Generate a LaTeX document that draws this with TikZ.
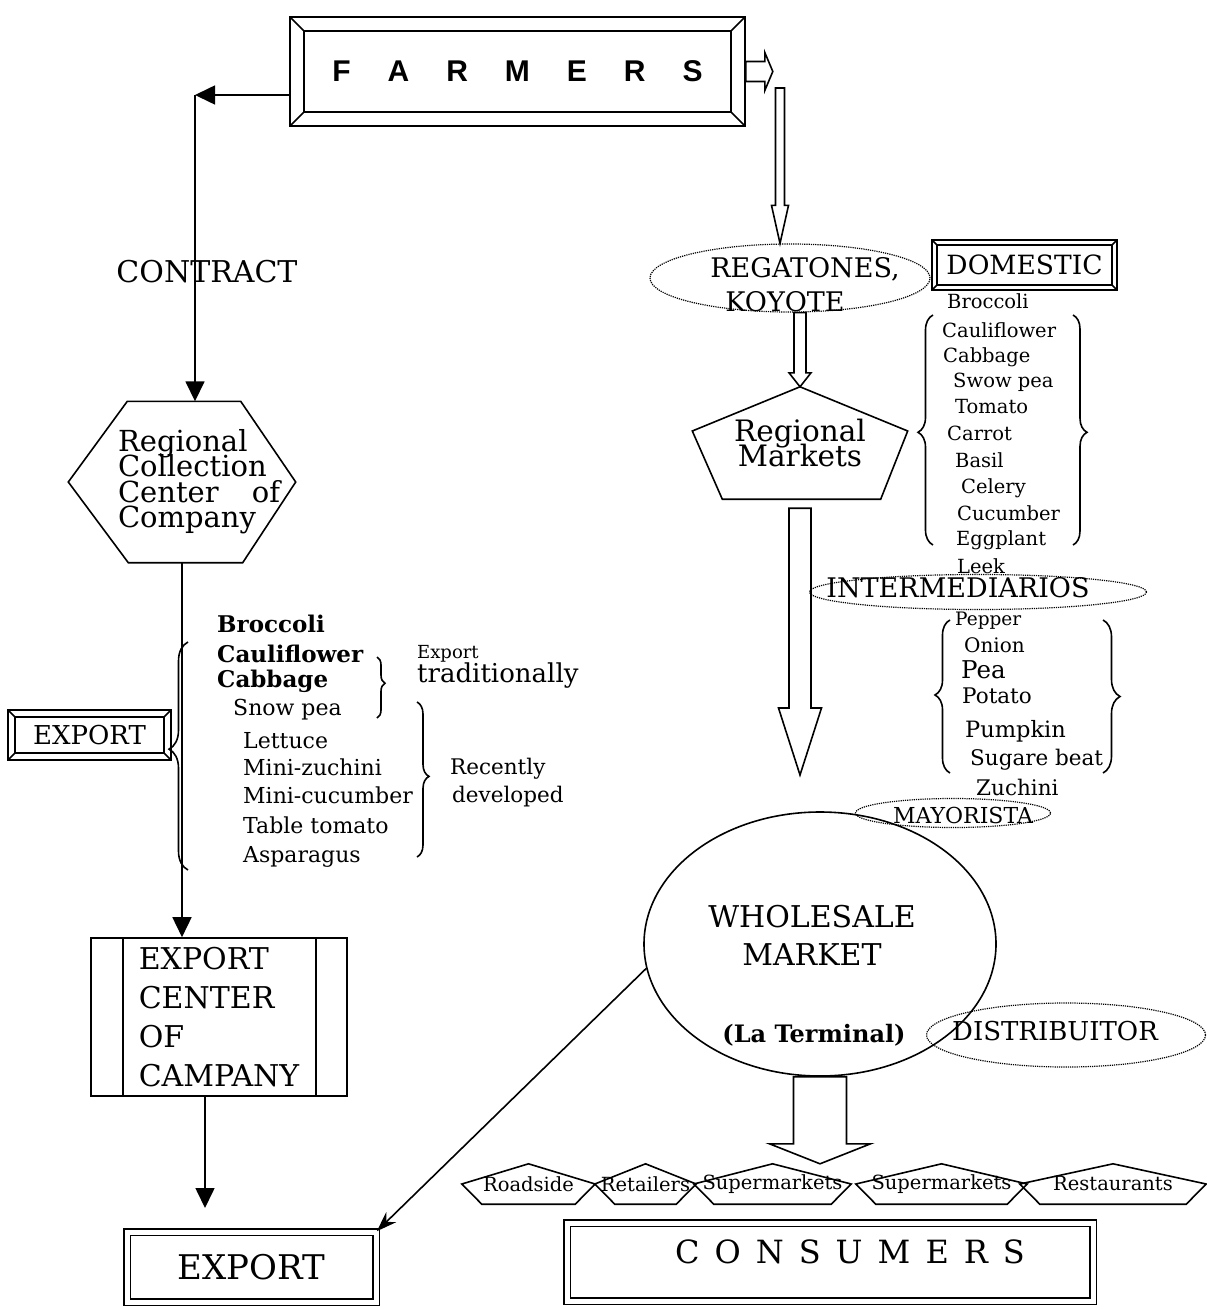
\documentclass[tikz,border=0pt]{standalone}
\usepackage{fontspec}
\setmainfont{DejaVu Serif}
\newfontfamily\farmfont{Liberation Sans}
\usetikzlibrary{arrows.meta,calc,shapes.geometric,decorations.pathreplacing}

\tikzset{
  pen/.style={line width=1.6pt},
  fs/.style={font=\fontsize{#1}{#1}\selectfont},
  tightlines/.style={execute at begin node={\lineskiplimit=-50pt\relax}},
  arr/.style={pen,-{Triangle[length=20pt,width=19pt]}},
  hollow/.style={pen,fill=white,line join=miter},
  dotoval/.style={ellipse,draw,densely dotted,line width=1.2pt,inner sep=0pt},
  twobox/.style={draw,pen,double,double distance=5pt},
  curly/.style={pen,decorate,decoration={brace,#1}},
  bevel/.style={draw,pen,path picture={
      \draw[pen] ([shift={(#1,#1)}]path picture bounding box.south west) rectangle ([shift={(-#1,-#1)}]path picture bounding box.north east);
      \draw[pen] (path picture bounding box.south west) -- ++(#1,#1)
                 (path picture bounding box.north west) -- ++(#1,-#1)
                 (path picture bounding box.north east) -- ++(-#1,-#1)
                 (path picture bounding box.south east) -- ++(-#1,#1);}},
  ecbox/.style={draw,pen,path picture={
      \draw[pen] ([xshift=32pt]path picture bounding box.north west) -- ([xshift=32pt]path picture bounding box.south west)
                 ([xshift=-31pt]path picture bounding box.north east) -- ([xshift=-31pt]path picture bounding box.south east);}}
}

% hollow block arrows
\newcommand{\hollowdown}[5]{\draw[hollow] let \p1=(#1), \p2=(#2) in
  (\x1-#3,\y1) -- (\x1-#3,\y2+#5) -- (\x1-#4,\y2+#5) -- (\x1,\y2) -- (\x1+#4,\y2+#5) -- (\x1+#3,\y2+#5) -- (\x1+#3,\y1) -- cycle;}
\newcommand{\hollowright}[5]{\draw[hollow] let \p1=(#1), \p2=(#2) in
  (\x1,\y1+#3) -- (\x2-#5,\y1+#3) -- (\x2-#5,\y1+#4) -- (\x2,\y1) -- (\x2-#5,\y1-#4) -- (\x2-#5,\y1-#3) -- (\x1,\y1-#3) -- cycle;}

\begin{document}
\begin{tikzpicture}[x=1pt,y=-1pt]
  \useasboundingbox (0,0) rectangle (1207,1309);

  % top
  \node[bevel=14pt,minimum width=455,minimum height=109] (farmers) at (517.5,71.5)
    {\farmfont\bfseries\fontsize{30}{30}\selectfont\spaceskip=37pt F A R M E R S};
  \coordinate (corner) at (195,95);
  \coordinate (fdown) at (780,88);

  % company side
  \node[minimum width=227,minimum height=161] (rcc) at (182,482) {};
  \draw[pen] (rcc.west) -- ([xshift=59pt]rcc.north west) -- ([xshift=-55pt]rcc.north east) -- (rcc.east)
    -- ([xshift=-53pt]rcc.south east) -- ([xshift=60pt]rcc.south west) -- cycle;
  \node[font=\fontsize{29}{25.5}\selectfont,tightlines,text width=162pt,align=left,inner sep=0pt] (rcctext) at (199,481.5)
    {Regional\\Collection\\Center\hfill of\\Company};
  \node[fs=30] (contract) at (207,272) {CONTRACT};
  \draw[arr] (farmers.west |- corner) -- (corner);
  \draw[arr] (corner) -- (corner |- rcc.north);

  \node[bevel=7pt,minimum width=163,minimum height=50,fs=26] (expside) at (89.5,735) {EXPORT};
  \draw[curly={amplitude=19pt,aspect=0.53}] (188,870) -- (188,642);

  \foreach \x/\y/\t [count=\i] in {217/632/Broccoli,217/662/Cauliflower,217/687/Cabbage}
    \node[fs=23,anchor=base west,inner sep=0pt] (trad\i) at (\x,\y) {\bfseries\t};
  \foreach \x/\y/\t [count=\i] in {233/715/Snow pea,243/748/Lettuce,243/775/Mini-zuchini,
      243/803/Mini-cucumber,243/833/Table tomato,243/862/Asparagus}
    \node[fs=22,anchor=base west,inner sep=0pt] (new\i) at (\x,\y) {\t};
  \draw[curly={amplitude=8pt,aspect=0.43}] (377,657) -- (377,718);
  \draw[curly={amplitude=12pt,aspect=0.48}] (417,702) -- (417,857);
  \node[fs=18,anchor=base west,inner sep=0pt] (exportsmall) at (417,658) {Export};
  \node[fs=26,anchor=base west,inner sep=0pt] (tradtext) at (417,682) {traditionally};
  \node[fs=21.5,anchor=base west,inner sep=0pt] (recently) at (450,774) {Recently};
  \node[fs=21.5,anchor=base west,inner sep=0pt] (developed) at (452,802) {developed};

  \node[ecbox,minimum width=256,minimum height=158,align=left,
    font=\fontsize{30}{39}\selectfont] (ecc) at (219,1017) {EXPORT\\CENTER\\OF\\CAMPANY};
  \draw[arr] (rcc.south) -- (rcc.south |- ecc.north);
  \coordinate (exptip) at (205,1208);
  \draw[arr] (ecc.south -| exptip) -- (exptip);
  \node[twobox,minimum width=249,minimum height=70,fs=34] (exportb) at (251.5,1267) {EXPORT};

  % domestic side
  \node[dotoval,minimum width=280,minimum height=68] (regat) at (790,278) {};
  \node[font=\fontsize{27}{34}\selectfont,align=left,inner sep=0pt] (regattext) at (805,285)
    {REGATONES,\\\hspace*{15pt}KOYOTE};
  \hollowright{farmers.east}{[xshift=27pt]farmers.east}{10pt}{19pt}{8pt}
  \hollowdown{fdown}{fdown |- regat.north}{4.5pt}{8.5pt}{38pt}

  \node[bevel=5pt,minimum width=185,minimum height=50,fs=26.5] (domestic) at (1024.5,265) {DOMESTIC};
  \foreach \x/\y/\t [count=\i] in {947/308/Broccoli,942/337/Cauliflower,943/362/Cabbage,953/387/Swow pea,
      955/413/Tomato,947/440/Carrot,955/467/Basil,961/493/Celery,957/520/Cucumber,956/545/Eggplant,957/573/Leek}
    \node[fs=19.5,anchor=base west,inner sep=0pt] (dom\i) at (\x,\y) {\t};
  \draw[curly={amplitude=15pt,aspect=0.49}] (933,545) -- (933,315);
  \draw[curly={amplitude=14pt,aspect=0.51}] (1073,315) -- (1073,545);

  \node[minimum width=215,minimum height=112,align=center,tightlines,
    font=\fontsize{29.5}{25}\selectfont] (regmkt) at (800,443) {Regional\\Markets};
  \draw[pen] (regmkt.north) -- ([yshift=12pt]regmkt.east) -- ([xshift=-27pt]regmkt.south east)
    -- ([xshift=30pt]regmkt.south west) -- ([yshift=12pt]regmkt.west) -- cycle;
  \hollowdown{regmkt.north |- regat.south}{regmkt.north}{6pt}{11pt}{14pt}
  \coordinate (bigtip) at (801,775);
  \hollowdown{[yshift=-9pt]regmkt.south}{bigtip}{11pt}{21.5pt}{67pt}

  \node[dotoval,minimum width=337,minimum height=35] (interm) at (978,592) {};
  \node[fs=27] (intermtext) at (958,588) {INTERMEDIARIOS};
  \foreach \x/\y/\s/\t [count=\i] in {955/625/18.5/Pepper,964/652/20/Onion,961/678/24.5/Pea,962/703/21.5/Potato,
      965/737/22.5/Pumpkin,970/765/21.5/Sugare beat,976/795/21.5/Zuchini}
    \node[fs=\s,anchor=base west,inner sep=0pt] (dry\i) at (\x,\y) {\t};
  \draw[curly={amplitude=15pt,aspect=0.51}] (950,773) -- (950,620);
  \draw[curly={amplitude=17pt,aspect=0.5}] (1103,620) -- (1103,773);

  \node[dotoval,minimum width=195,minimum height=29] (mayor) at (953,813) {};
  \node[fs=22] (mayortext) at (963,815) {MAYORISTA};

  \node[ellipse,draw,pen,minimum width=352,minimum height=264] (wholesale) at (820,944) {};
  \node[font=\fontsize{30}{38}\selectfont,align=center] (wholetext) at (812,935.5) {WHOLESALE\\MARKET};
  \node[fs=24] (terminal) at (814,1035) {\bfseries (La Terminal)};
  \node[dotoval,minimum width=279,minimum height=64] (distrib) at (1066,1035) {};
  \node[fs=26] (distribtext) at (1055,1031) {DISTRIBUITOR};

  % outlets
  \foreach \name/\x/\w/\t in {roadside/528.5/133/Roadside,retailers/645.5/101/Retailers,
      super1/772.5/157/Supermarkets,super2/941.5/171/Supermarkets,restaurants/1113/186/Restaurants}
  {
    \node[fs=19.5,minimum width=\w,minimum height=40,inner sep=0pt] (\name) at (\x,1184) {\t};
    \draw[pen] (\name.west) -- (\name.north) -- (\name.east) -- ([xshift=-20pt]\name.south east)
      -- ([xshift=20pt]\name.south west) -- cycle;
  }
  \hollowdown{wholesale.south}{wholesale.south |- super1.north}{26.5pt}{50.5pt}{20pt}
  \draw[pen,-{Stealth[length=20pt,width=14pt]}] (wholesale.188) -- (exportb.north east);

  \node[twobox,minimum width=526,minimum height=78,fs=32,text depth=20pt] (consumers) at (830,1262)
    {\hspace*{40pt}\spaceskip=15pt C O N S U M E R S};
\end{tikzpicture}
\end{document}
